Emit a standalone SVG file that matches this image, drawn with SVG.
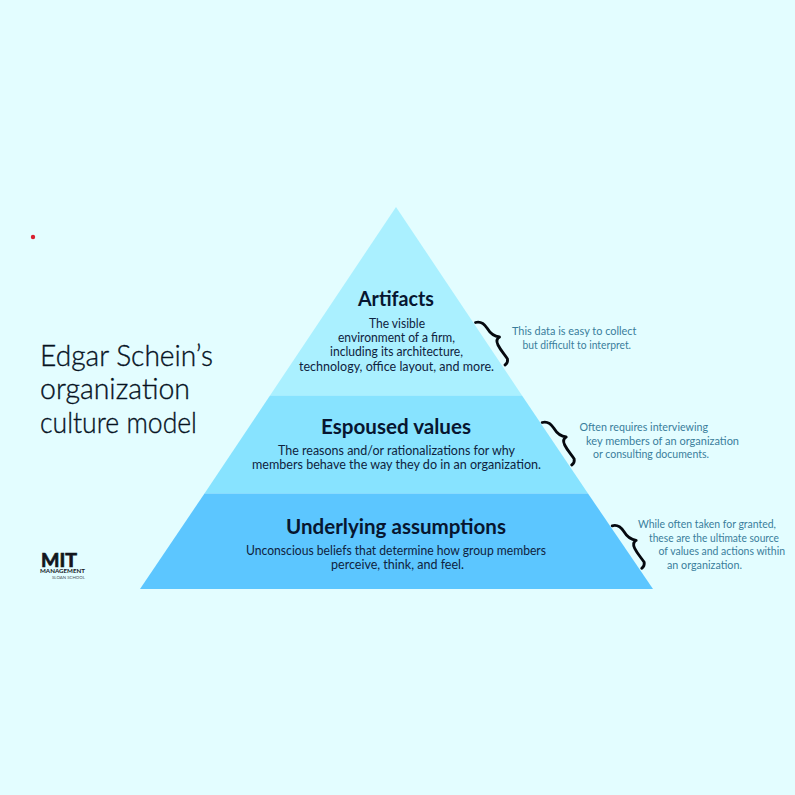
<svg xmlns="http://www.w3.org/2000/svg" width="795" height="795" viewBox="0 0 795 795">
<style>
text{font-family:"Lato","Noto Sans","Liberation Sans",sans-serif}
.h{font-size:21.500px;font-weight:700;fill:#071630}
.b{font-size:12.500px;fill:#0f2340}
.s{font-size:11px;fill:#3a7d9c}
.t{font-size:30px;font-weight:300;fill:#06121f;stroke:#06121f;stroke-width:0.350}
.brace{fill:none;stroke:#05090f;stroke-width:2.800;stroke-linecap:round;stroke-linejoin:round}
</style>
<defs>
<path id="br" class="brace" d="M475.500 322.500C481 321 484 323.500 487 328C490 333 494 336.500 499.500 337C496 339 496.500 342 498 345C501 351 505 355 507.500 359C508 362 506.500 364 505 365"/>
</defs>
<rect width="795" height="795" fill="#e3fdff"/>
<circle cx="33" cy="237" r="2.200" fill="#d8202f"/>
<g id="title">
<text class="t" x="40" y="366" textLength="173" lengthAdjust="spacingAndGlyphs">Edgar Schein’s</text>
<text class="t" x="40" y="399" textLength="150" lengthAdjust="spacingAndGlyphs">organization</text>
<text class="t" x="40" y="433" textLength="157" lengthAdjust="spacingAndGlyphs">culture model</text>
</g>
<g id="artifacts">
<polygon points="396,207 522,395.500 270,395.500" fill="#aaf0ff"/>
<text class="h" x="358" y="306" textLength="76" lengthAdjust="spacingAndGlyphs">Artifacts</text>
<text class="b" x="369" y="328" textLength="56" lengthAdjust="spacingAndGlyphs">The visible</text>
<text class="b" x="338" y="342" textLength="117" lengthAdjust="spacingAndGlyphs">environment of a firm,</text>
<text class="b" x="330" y="356" textLength="133" lengthAdjust="spacingAndGlyphs">including its architecture,</text>
<text class="b" x="299" y="371" textLength="195" lengthAdjust="spacingAndGlyphs">technology, office layout, and more.</text>
</g>
<g id="espoused-values">
<polygon points="270,395.500 522,395.500 588,493.500 204.500,493.500" fill="#87e3ff"/>
<text class="h" x="321" y="434" textLength="150" lengthAdjust="spacingAndGlyphs">Espoused values</text>
<text class="b" x="278" y="455" textLength="237" lengthAdjust="spacingAndGlyphs">The reasons and/or rationalizations for why</text>
<text class="b" x="252" y="469" textLength="289" lengthAdjust="spacingAndGlyphs">members behave the way they do in an organization.</text>
</g>
<g id="underlying-assumptions">
<polygon points="204.500,493.500 588,493.500 653,589 140,589" fill="#5cc6ff"/>
<text class="h" x="286" y="534" textLength="220" lengthAdjust="spacingAndGlyphs">Underlying assumptions</text>
<text class="b" x="246" y="555" textLength="300" lengthAdjust="spacingAndGlyphs">Unconscious beliefs that determine how group members</text>
<text class="b" x="331" y="569" textLength="133" lengthAdjust="spacingAndGlyphs">perceive, think, and feel.</text>
</g>
<g id="connectors">
<use href="#br"/>
<use href="#br" transform="translate(66.700 100)"/>
<use href="#br" transform="translate(136.700 203.300)"/>
</g>
<g id="note-artifacts">
<text class="s" x="512" y="335" textLength="124.500" lengthAdjust="spacingAndGlyphs">This data is easy to collect</text>
<text class="s" x="522.500" y="349" textLength="108.500" lengthAdjust="spacingAndGlyphs">but difficult to interpret.</text>
</g>
<g id="note-espoused">
<text class="s" x="579.500" y="431" textLength="128.500" lengthAdjust="spacingAndGlyphs">Often requires interviewing</text>
<text class="s" x="586" y="445" textLength="153" lengthAdjust="spacingAndGlyphs">key members of an organization</text>
<text class="s" x="593" y="458" textLength="116" lengthAdjust="spacingAndGlyphs">or consulting documents.</text>
</g>
<g id="note-underlying">
<text class="s" x="638" y="528" textLength="138" lengthAdjust="spacingAndGlyphs">While often taken for granted,</text>
<text class="s" x="649" y="542" textLength="130" lengthAdjust="spacingAndGlyphs">these are the ultimate source</text>
<text class="s" x="658.500" y="555" textLength="126.500" lengthAdjust="spacingAndGlyphs">of values and actions within</text>
<text class="s" x="667" y="569" textLength="75" lengthAdjust="spacingAndGlyphs">an organization.</text>
</g>
<g id="logo" fill="#12161c">
<text x="41" y="566.500" font-size="19" font-family="Liberation Sans" font-weight="700" stroke="#12161c" stroke-width="0.700" textLength="36" lengthAdjust="spacingAndGlyphs">MIT</text>
<text x="40" y="573" font-size="5.500" font-weight="700" textLength="45" lengthAdjust="spacingAndGlyphs">MANAGEMENT</text>
<text x="52" y="578.500" font-size="4.500" fill="#4a5058" textLength="33" lengthAdjust="spacingAndGlyphs">SLOAN SCHOOL</text>
</g>
</svg>
